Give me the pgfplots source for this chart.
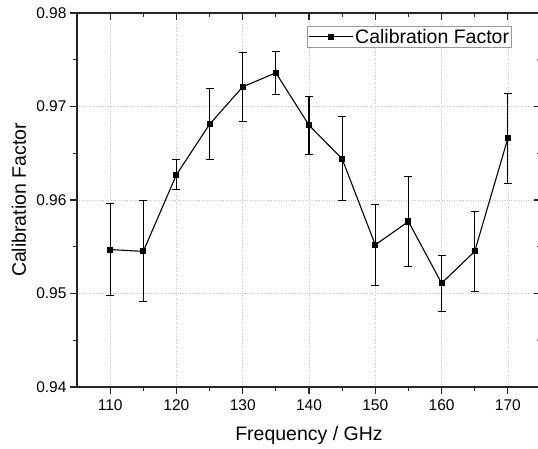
\documentclass[border=0pt]{standalone}
\usepackage{pgfplots}
\pgfplotsset{compat=1.18}
\usepackage{pgfplotstable}
\usepackage{fontspec}
\setmainfont{Liberation Sans}

\pgfplotstableread{
x y e
110 0.9547 0.0049
115 0.9545 0.0054
120 0.9627 0.0016
125 0.9681 0.0038
130 0.9721 0.0037
135 0.9736 0.0023
140 0.9680 0.0031
145 0.9644 0.0045
150 0.9552 0.0043
155 0.9577 0.0048
160 0.9511 0.0030
165 0.9545 0.0043
170 0.9666 0.0048
}\datatable

\pgfplotsset{
  common/.style={
    scale only axis,
    width=464pt, height=374pt,
    xmin=105, xmax=175, ymin=0.94, ymax=0.98,
    xtick={110,120,...,170},
    ytick={0.94,0.95,...,0.98},
    minor x tick num=1, minor y tick num=1,
    major tick length=7pt, minor tick length=4pt,
    axis line style={black!85, line width=1.3pt},
    every tick/.style={black!85, line width=1.2pt},
  }
}

\begin{document}
\begin{tikzpicture}
\begin{axis}[
  common,
  tick align=outside,
  xtick pos=left, ytick pos=left,
  grid=major,
  major grid style={gray!45, dotted, line width=0.6pt},
  /pgf/number format/assume math mode=true,
  yticklabel style={/pgf/number format/.cd, fixed, fixed zerofill, precision=2},
  xticklabel style={yshift=-2pt},
  tick label style={font=\fontsize{15.5}{18}\selectfont},
  label style={font=\fontsize{19.5}{23}\selectfont},
  xlabel={Frequency / GHz},
  ylabel={Calibration Factor},
  xlabel style={at={(rel axis cs:0.5,0)}, anchor=base, yshift=-54pt},
  ylabel style={at={(rel axis cs:0,0.5)}, rotate=0, anchor=base, yshift=51pt},
  legend style={at={(rel axis cs:1,1)}, anchor=north east, xshift=-29pt, yshift=-13pt,
    draw=gray!80, line width=0.8pt, fill=white,
    font=\fontsize{19.5}{22}\selectfont, inner sep=0.5pt, row sep=0pt},
  legend image code/.code={%
    \draw[mark repeat=2, mark phase=2, #1] plot coordinates {(0pt,0pt) (22pt,0pt) (44pt,0pt)};},
  legend cell align=left,
]
\addplot[black, line width=1.1pt, mark=square*, mark size=2.5pt,
  mark options={solid, fill=black},
  error bars/.cd, y dir=both, y explicit,
  error bar style={line width=1.1pt, black},
  error mark options={rotate=90, mark size=4pt, line width=1.1pt, black}]
  table[x=x, y=y, y error=e] {\datatable};
\addlegendentry{Calibration Factor}
\coordinate (bl) at (rel axis cs:0,0);
\coordinate (tr) at (rel axis cs:1,1);
\end{axis}
\begin{axis}[
  common,
  tick align=inside,
  xtick pos=right, ytick pos=right,
  xticklabels={}, yticklabels={},
]
\end{axis}
\pgfresetboundingbox
\path[use as bounding box] ([xshift=-77pt, yshift=-62pt]bl) rectangle ([xshift=-3pt, yshift=13pt]tr);
\end{tikzpicture}
\end{document}
